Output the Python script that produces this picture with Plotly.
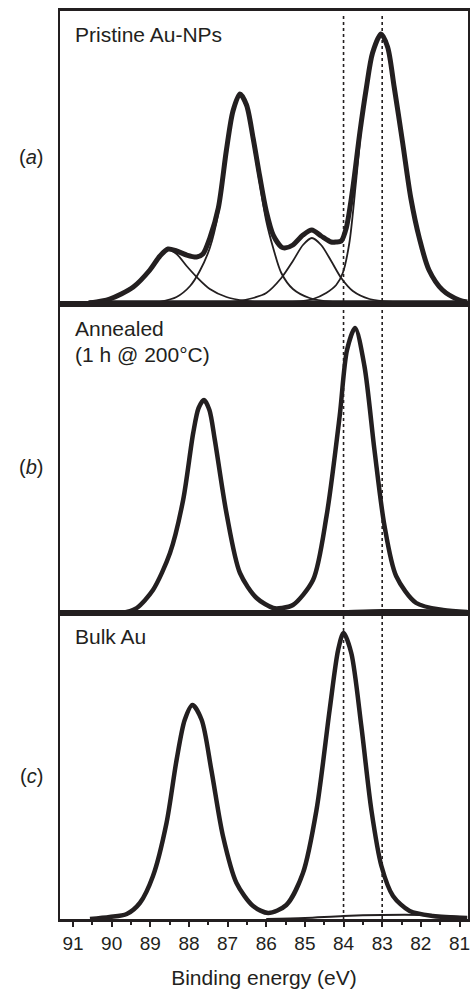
import plotly.graph_objects as go
from plotly.subplots import make_subplots

# (a) pristine Au-NPs : measured envelope + four fitted components
energyA = [90.56, 90.05, 89.44, 89.01, 88.75, 88.54, 88.32, 88.06, 87.80, 87.64, 87.46, 87.24, 87.03, 86.86,
           86.68, 86.51, 86.34, 86.17, 86.00, 85.82, 85.61, 85.52, 85.31, 85.05, 84.82, 84.58, 84.32, 84.19,
           84.06, 83.93, 83.76, 83.58, 83.41, 83.25, 83.03, 82.86, 82.69, 82.47, 82.26, 82.04, 81.79, 81.44,
           81.01, 80.80]
intensityA = [0, 4, 16, 33, 47, 54, 52, 48, 46, 49, 65, 95, 153, 192,
              209, 198, 165, 127, 92, 68, 56, 55, 58, 68, 73, 67, 61, 61,
              62, 75, 115, 170, 215, 250, 269, 256, 216, 160, 105, 65, 33, 13,
              3, 1]

comp1E = [90.56, 90.05, 89.44, 89.01, 88.75, 88.54, 88.32, 88.06, 87.80, 87.46, 87.03, 86.51, 86.00]
comp1I = [0, 4, 16, 33, 46, 53, 49, 37, 26, 14, 6, 2, 0]
comp2E = [88.75, 88.32, 87.97, 87.72, 87.46, 87.24, 87.03, 86.86, 86.68, 86.51, 86.34, 86.17, 86.00,
          85.82, 85.61, 85.31, 84.88, 84.28]
comp2I = [1, 6, 17, 32, 55, 90, 150, 190, 207, 195, 160, 120, 82, 55, 30, 14, 5, 1]
comp3E = [86.86, 86.34, 86.00, 85.61, 85.31, 85.05, 84.82, 84.58, 84.32, 84.06, 83.76, 83.33, 82.73]
comp3I = [1, 5, 10, 25, 42, 58, 65, 58, 42, 25, 12, 4, 1]
comp4E = [85.31, 84.79, 84.45, 84.19, 84.02, 83.85, 83.68, 83.50, 83.33, 83.16, 83.03, 82.86, 82.69,
          82.47, 82.26, 82.04, 81.79, 81.44, 81.01, 80.80]
comp4I = [1, 4, 10, 18, 30, 60, 120, 190, 235, 262, 268, 255, 215, 160, 105, 65, 33, 13, 3, 1]

# (b) annealed 1 h @ 200 C
energyB = [89.75, 89.61, 89.35, 88.93, 88.49, 88.15, 87.89, 87.75, 87.61, 87.47, 87.33, 87.03, 86.68,
           86.25, 85.82, 85.60, 85.31, 84.79, 84.44, 84.10, 83.91, 83.70, 83.46, 83.20, 82.94, 82.64,
           82.12, 81.43, 80.80]
intensityB = [0, 1, 5, 23, 60, 113, 180, 205, 213, 203, 173, 100, 40,
              15, 5, 5, 8, 33, 97, 197, 263, 285, 247, 163, 87, 37,
              10, 3, 1]
bgEnergyB = [86.0, 85.0, 84.0, 83.0, 82.0, 81.0]
bgIntensityB = [0, 1, 2, 3, 3, 2]

# (c) bulk Au
energyC = [90.56, 90.05, 89.61, 89.27, 88.93, 88.58, 88.32, 88.11, 87.91, 87.67, 87.42, 87.12, 86.77,
           86.34, 85.95, 85.48, 85.05, 84.70, 84.36, 84.14, 84.00, 83.80, 83.54, 83.28, 83.02, 82.72,
           82.29, 81.69, 80.80]
intensityC = [0, 2, 5, 16, 43, 96, 159, 199, 214, 199, 149, 83, 36,
              13, 6, 14, 46, 109, 209, 269, 286, 266, 193, 109, 53, 23,
              8, 3, 1]
bgEnergyC = [86.0, 85.0, 84.0, 83.0, 82.0, 81.0]
bgIntensityC = [0, 1, 3, 4, 4, 2]

panelLabels = ["(<i>a</i>)", "(<i>b</i>)", "(<i>c</i>)"]
sampleNames = ["Pristine Au-NPs", "Annealed", "(1 h @ 200°C)", "Bulk Au"]
refLines = [84, 83]
tickVals = [91, 90, 89, 88, 87, 86, 85, 84, 83, 82, 81]

ink = "#231f20"
font = "Liberation Sans, Arial, sans-serif"

fig = make_subplots(rows=3, cols=1, shared_xaxes=True, vertical_spacing=0,
                    row_heights=[293, 309, 306])

def addLine(x, y, row, width):
    fig.add_trace(go.Scatter(x=x, y=y, mode="lines", line=dict(color=ink, width=width, shape="spline", smoothing=0.8),
                             showlegend=False, hoverinfo="skip"), row=row, col=1)

# panel a
addLine([90.6, 80.8], [1, 1], 1, 3.5)
for ce, ci in [(comp1E, comp1I), (comp2E, comp2I), (comp3E, comp3I), (comp4E, comp4I)]:
    addLine(ce, ci, 1, 1.8)
addLine(energyA, intensityA, 1, 5)

# panel b
addLine(bgEnergyB, bgIntensityB, 2, 2)
addLine(energyB, intensityB, 2, 4.5)

# panel c
addLine(bgEnergyC, bgIntensityC, 3, 2)
addLine(energyC, intensityC, 3, 4.5)

for r in [1, 2, 3]:
    fig.update_xaxes(range=[91.336, 80.78], showline=True, linewidth=3, linecolor=ink, mirror=True,
                     showgrid=False, zeroline=False, automargin=False, row=r, col=1)
    fig.update_yaxes(showline=True, linewidth=1.5, linecolor=ink, mirror=True, showgrid=False,
                     zeroline=False, showticklabels=False, ticks="", automargin=False, row=r, col=1)

fig.update_yaxes(range=[-1, 292], row=1, col=1)
fig.update_yaxes(range=[0, 309], row=2, col=1)
fig.update_yaxes(range=[0, 306], row=3, col=1)

fig.update_xaxes(ticks="outside", ticklen=5, tickwidth=2, tickcolor=ink,
                 tickvals=tickVals, ticktext=[str(t) for t in tickVals],
                 tickfont=dict(family=font, size=19, color=ink), ticklabeloverflow="allow",
                 minor=dict(dtick=0.5, ticks="outside", ticklen=3, tickwidth=1.5, tickcolor=ink),
                 title=dict(text="Binding energy (eV)", font=dict(family=font, size=21, color=ink), standoff=18),
                 row=3, col=1)

for v in refLines:
    fig.add_shape(type="line", xref="x", yref="paper", x0=v, x1=v, y0=0, y1=0.997,
                  line=dict(color=ink, width=1.6, dash="dot"))

plotLeft, plotW, plotBottom, plotH = 60, 408, 919, 908

def px(xp):
    return (xp - plotLeft) / plotW

def py(yp):
    return (plotBottom - yp) / plotH

annots = []
for lab, yy in zip(panelLabels, [157, 467, 776]):
    annots.append(dict(text=lab, x=px(31), y=py(yy), xref="paper", yref="paper", showarrow=False,
                       xanchor="center", yanchor="middle", font=dict(family=font, size=20, color=ink)))
for name, yy in zip(sampleNames, [34, 329, 355, 637]):
    annots.append(dict(text=name, x=px(73), y=py(yy), xref="paper", yref="paper", showarrow=False,
                       xanchor="left", yanchor="middle", font=dict(family=font, size=21, color=ink)))

fig.update_layout(
    width=471, height=989,
    margin=dict(l=60, r=3, t=11, b=70),
    paper_bgcolor="white", plot_bgcolor="white",
    annotations=annots,
    font=dict(family=font, color=ink))

# page body has a default 8px margin that pushes the figure off the window
fig.write_html("out.html", config={"displayModeBar": False},
               post_script="document.body.style.margin='0px';")
